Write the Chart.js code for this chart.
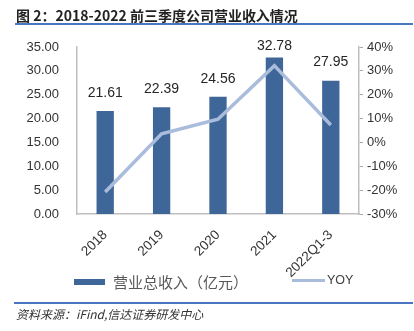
<!DOCTYPE html>
<html>
<head>
<meta charset="utf-8">
<script src="https://cdn.jsdelivr.net/npm/chart.js@4/dist/chart.umd.min.js"></script>
<style>
  body { margin: 0; background: #fff; }
  #wrap { position: relative; width: 414px; height: 331px; overflow: hidden; }
  #chartBox { position: absolute; left: 0; top: 0; width: 414px; height: 331px; }
  .abs { position: absolute; white-space: nowrap; }
  #title { left: 16px; top: 5px; font: bold 14px "Noto Sans CJK SC", sans-serif; color: #222; }
  #titleRule { left: 15px; top: 23px; width: 398px; height: 2px; background: #4a76c1; }
  #srcRule { left: 14px; top: 302px; width: 399px; height: 1.5px; background: #4a76c1; }
  #source { left: 16px; top: 305px; font: italic 12px "Noto Sans CJK SC", sans-serif; color: #333; }
  #legBar { left: 74px; top: 279px; width: 31px; height: 6px; background: #3f6699; }
  #legBarText { left: 113px; top: 271px; font: 15px "Noto Sans CJK SC", sans-serif; color: #595959; }
  #legLine { left: 292px; top: 279px; width: 33px; height: 3px; background: #a9bcdb; }
  #legLineText { left: 327px; top: 273px; font: 12.5px "Liberation Sans", sans-serif; color: #404040; }
</style>
</head>
<body>
<div id="wrap">
  <div id="chartBox"><canvas id="revenueChart"></canvas></div>
  <div class="abs" id="title">图 2：2018-2022 前三季度公司营业收入情况</div>
  <div class="abs" id="titleRule"></div>
  <div class="abs" id="legBar"></div>
  <div class="abs" id="legBarText">营业总收入（亿元）</div>
  <div class="abs" id="legLine"></div>
  <div class="abs" id="legLineText">YOY</div>
  <div class="abs" id="srcRule"></div>
  <div class="abs" id="source">资料来源：iFind,信达证券研发中心</div>
</div>
<script>
'use strict';

// Data
const categories = ['2018', '2019', '2020', '2021', '2022Q1-3'];
const revenue = [21.61, 22.39, 24.56, 32.78, 27.95]; // 亿元
const yoy = [-20.8, 3.6, 9.7, 32.2, 7.3];           // %
const revenueTicks = { min: 0, max: 35, step: 5 };
const yoyTicks = { min: -30, max: 40, step: 10 };

const barColor = '#3f6699';
const lineColor = '#a9bcdb';
const axisColor = '#bfbfbf';
const tickFont = { family: 'Liberation Sans', size: 13 };

// Value labels above the bars (bar dataset is index 1)
const barLabels = {
    id: 'barLabels',
    afterDatasetsDraw(chart) {
        const ctx = chart.ctx;
        const meta = chart.getDatasetMeta(1);
        ctx.save();
        ctx.font = '14px "Liberation Sans"';
        ctx.fillStyle = '#262626';
        ctx.textAlign = 'center';
        ctx.textBaseline = 'middle';
        meta.data.forEach((bar, i) => {
            const y = Math.max(bar.y - 18, chart.chartArea.top - 1);
            ctx.fillText(revenue[i].toFixed(2), bar.x, y);
        });
        ctx.restore();
    }
};

const ctx = document.getElementById('revenueChart').getContext('2d');
new Chart(ctx, {
    data: {
        labels: categories,
        datasets: [
            {
                type: 'line',
                label: 'YOY',
                data: yoy,
                yAxisID: 'y1',
                borderColor: lineColor,
                borderWidth: 3.5,
                pointRadius: 0,
                tension: 0,
                order: 1
            },
            {
                type: 'bar',
                label: '营业总收入（亿元）',
                data: revenue,
                yAxisID: 'y',
                backgroundColor: barColor,
                categoryPercentage: 1,
                barPercentage: 0.307,
                order: 2
            }
        ]
    },
    plugins: [barLabels],
    options: {
        responsive: true,
        maintainAspectRatio: false,
        animation: false,
        layout: { padding: { top: 47, left: 0, right: 0, bottom: 0 } },
        plugins: {
            legend: { display: false },
            tooltip: { enabled: false }
        },
        scales: {
            x: {
                grid: { display: false },
                border: { display: true, color: axisColor, width: 1.5 },
                ticks: {
                    color: '#333',
                    font: { family: 'Liberation Sans', size: 13.5 },
                    minRotation: 45,
                    maxRotation: 45,
                    padding: 5
                },
                afterFit: s => { s.height = 117; }
            },
            y: {
                position: 'left',
                min: revenueTicks.min,
                max: revenueTicks.max,
                grid: { display: false },
                border: { display: true, color: axisColor, width: 1.5 },
                ticks: {
                    stepSize: revenueTicks.step,
                    color: '#333',
                    font: tickFont,
                    padding: 10,
                    callback: v => v.toFixed(2)
                },
                afterFit: s => { s.width = 77; }
            },
            y1: {
                position: 'right',
                min: yoyTicks.min,
                max: yoyTicks.max,
                grid: {
                    display: true,
                    drawOnChartArea: false,
                    drawTicks: true,
                    tickLength: 4,
                    color: '#a6a6a6'
                },
                border: { display: true, color: axisColor, width: 1.5 },
                ticks: {
                    stepSize: yoyTicks.step,
                    color: '#333',
                    font: tickFont,
                    padding: 4,
                    callback: v => v + '%'
                },
                afterFit: s => { s.width = 55; }
            }
        }
    }
});
</script>
</body>
</html>
